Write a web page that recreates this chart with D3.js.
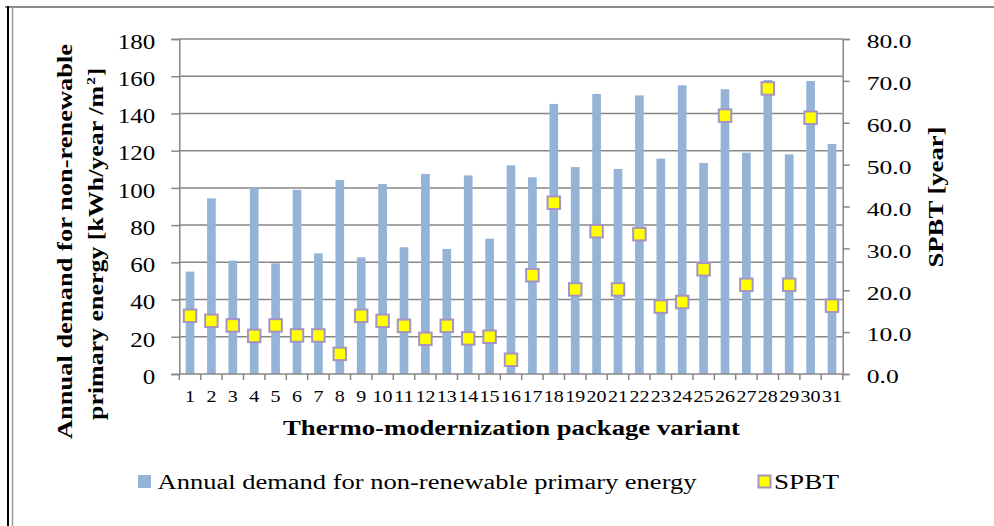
<!DOCTYPE html>
<html>
<head>
<meta charset="utf-8">
<script src="https://cdn.jsdelivr.net/npm/d3@7"></script>
<style>
  body { margin: 0; background: #fff; }
  svg text { font-family: "Liberation Serif", "Times New Roman", "DejaVu Serif", serif; fill: #000; }
</style>
</head>
<body>
<svg id="chart" width="994" height="526"></svg>
<script>
// variants 1..31
const variants = d3.range(1, 32).map(String);

// annual demand for non-renewable primary energy [kWh/year/m2]
const demand = [55.0, 94.4, 60.9, 100.1, 59.5, 98.9, 64.8, 104.2, 62.7, 102.1,
                68.1, 107.5, 67.2, 106.7, 72.7, 112.1, 105.7, 145.1, 111.2, 150.5,
                110.2, 149.7, 115.7, 155.1, 113.4, 153.0, 118.9, 158.0, 118.0, 157.4, 123.6];

// SPBT [year]
const spbt = [13.9, 12.7, 11.6, 9.1, 11.6, 9.2, 9.2, 4.8, 13.9, 12.7,
              11.5, 8.4, 11.5, 8.5, 8.9, 3.4, 23.6, 40.9, 20.2, 34.1,
              20.2, 33.4, 16.1, 17.2, 25.0, 61.7, 21.3, 68.2, 21.3, 61.2, 16.3];

const leftTicks = d3.range(0, 181, 20);
const rightTicks = d3.range(0, 81, 10);

const svg = d3.select("#chart");
const W = 994, H = 526;
const margin = {left: 179.3, right: W - 842.7, top: 39, bottom: H - 374};
const x0 = margin.left, x1 = W - margin.right;
const yTop = margin.top, yBot = H - margin.bottom;

const x = d3.scaleBand().domain(variants).range([x0, x1]).paddingInner(0.595).paddingOuter(0.2975);
const y = d3.scaleLinear().domain([0, 180]).range([yBot, yTop]);
const y2 = d3.scaleLinear().domain([0, 80]).range([yBot, yTop]);
const step = x.step();

const grid = "#878787";

// squeeze a text to a given width (the original uses a narrow Times face)
function fit(sel, w) {
  sel.attr("textLength", w).attr("lengthAdjust", "spacingAndGlyphs");
}
// width of a numeric label from per-digit / per-dot widths
const numW = (s, dw, pw) => s.split("").reduce((a, c) => a + (c === "." ? pw : dw), 0);

// frame
svg.append("line").attr("x1", 5).attr("x2", W).attr("y1", 7).attr("y2", 7)
  .attr("stroke", "#8c8c8c").attr("stroke-width", 2);
svg.append("line").attr("x1", 8).attr("x2", 8).attr("y1", 6).attr("y2", H)
  .attr("stroke", "#000").attr("stroke-width", 2);
svg.append("line").attr("x1", 12.5).attr("x2", 12.5).attr("y1", 8).attr("y2", H)
  .attr("stroke", "#9a9a9a").attr("stroke-width", 1.5);

// gridlines
svg.append("g").selectAll("line").data(leftTicks.slice(1)).join("line")
  .attr("x1", x0).attr("x2", x1)
  .attr("y1", d => y(d)).attr("y2", d => y(d))
  .attr("stroke", grid).attr("stroke-width", 1.5);

// bars
svg.append("g").selectAll("rect").data(demand).join("rect")
  .attr("x", (d, i) => x(variants[i]))
  .attr("y", d => y(d))
  .attr("width", x.bandwidth())
  .attr("height", d => yBot - y(d))
  .attr("fill", "#95b3d7");

// axes
const axisStyle = g => {
  g.selectAll("path.domain").attr("stroke", grid).attr("stroke-width", 1.5);
  g.selectAll(".tick line").attr("stroke", grid).attr("stroke-width", 1.5);
  g.selectAll("text").attr("font-family", null).attr("font-size", null);
};

const left = svg.append("g").attr("transform", `translate(${x0},0)`)
  .call(d3.axisLeft(y).tickValues(leftTicks).tickSize(8).tickSizeOuter(8).tickPadding(16))
  .call(axisStyle);
left.selectAll("text").style("font-size", "20.5px").attr("dy", "0.45em")
  .each(function() { fit(d3.select(this), numW(this.textContent, 12.5, 6.3)); });

const right = svg.append("g").attr("transform", `translate(${x1},0)`)
  .call(d3.axisRight(y2).tickValues(rightTicks).tickFormat(d3.format(".1f")).tickSize(7).tickSizeOuter(7).tickPadding(17))
  .call(axisStyle);
right.selectAll("text").style("font-size", "19.5px").attr("dy", "0.45em")
  .each(function() { fit(d3.select(this), numW(this.textContent, 12.8, 6.4)); });

// x axis line, ticks at category boundaries, labels
const bottom = svg.append("g");
bottom.append("line").attr("x1", x0).attr("x2", x1).attr("y1", yBot).attr("y2", yBot)
  .attr("stroke", grid).attr("stroke-width", 1.5);
bottom.selectAll("line.t").data(d3.range(variants.length + 1)).join("line")
  .attr("class", "t")
  .attr("x1", i => x0 + i * step).attr("x2", i => x0 + i * step)
  .attr("y1", yBot).attr("y2", yBot + 6)
  .attr("stroke", grid).attr("stroke-width", 1.5);
bottom.selectAll("text").data(variants).join("text")
  .attr("x", d => x(d) + x.bandwidth() / 2)
  .attr("y", 402)
  .attr("text-anchor", "middle")
  .style("font-size", "17px")
  .text(d => d)
  .each(function(d) { fit(d3.select(this), numW(d, 10, 5)); });

// SPBT markers
const ms = 12.5;
svg.append("g").selectAll("rect").data(spbt).join("rect")
  .attr("x", (d, i) => x(variants[i]) + x.bandwidth() / 2 - ms / 2)
  .attr("y", d => y2(d) - ms / 2)
  .attr("width", ms).attr("height", ms)
  .attr("fill", "#ffff00")
  .attr("stroke", "#a593c4").attr("stroke-width", 2);

// axis titles
svg.append("text")
  .attr("x", 283).attr("y", 435)
  .style("font-size", "20.5px").style("font-weight", "bold")
  .text("Thermo-modernization package variant")
  .call(fit, 457);

const yl = svg.append("text")
  .attr("transform", "translate(72,242) rotate(-90)")
  .style("font-size", "20.5px").style("font-weight", "bold");
yl.append("tspan").attr("x", -197).attr("y", 0).text("Annual demand for non-renewable")
  .call(fit, 395);
yl.append("tspan").attr("x", -178).attr("y", 31).text("primary energy [kWh/year /m")
  .call(fit, 334);
yl.append("tspan").attr("x", 157).attr("y", 23).style("font-size", "13px").text("2").call(fit, 8);
yl.append("tspan").attr("x", 166).attr("y", 31).text("]").call(fit, 8);

svg.append("text")
  .attr("transform", "translate(943,197) rotate(-90)")
  .attr("x", -70.5)
  .style("font-size", "20.5px").style("font-weight", "bold")
  .text("SPBT [year]")
  .call(fit, 141);

// legend
const lg = svg.append("g");
lg.append("rect").attr("x", 138).attr("y", 475).attr("width", 13).attr("height", 13)
  .attr("fill", "#95b3d7");
lg.append("text").attr("x", 157.5).attr("y", 488.5)
  .style("font-size", "20.5px")
  .text("Annual demand for non-renewable primary energy")
  .call(fit, 539);
lg.append("rect").attr("x", 758.5).attr("y", 475.5).attr("width", 12).attr("height", 12)
  .attr("fill", "#ffff00").attr("stroke", "#a593c4").attr("stroke-width", 2);
lg.append("text").attr("x", 774).attr("y", 488.5)
  .style("font-size", "20.5px")
  .text("SPBT")
  .call(fit, 65);
</script>
</body>
</html>
